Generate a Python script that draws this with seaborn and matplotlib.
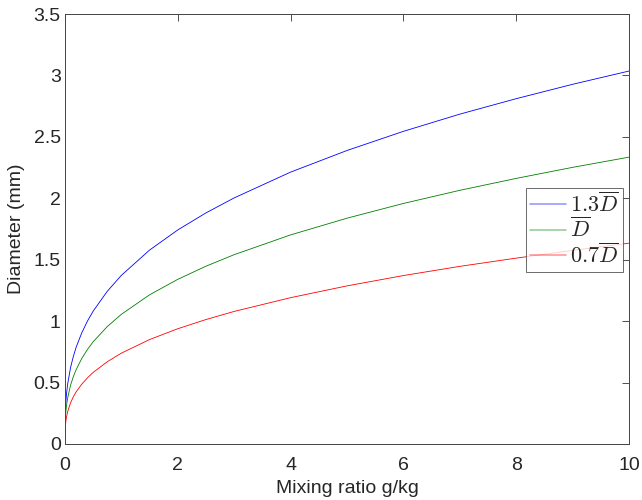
import pandas as pd
import seaborn as sns
import matplotlib.pyplot as plt
from matplotlib.ticker import FormatStrFormatter

# values
mixing_ratio = [0.01, 0.02, 0.03, 0.05, 0.1, 0.15, 0.2, 0.3, 0.4, 0.5, 0.75, 1.0,
                1.5, 2.0, 2.5, 3.0, 4.0, 5.0, 6.0, 7.0, 8.0, 9.0, 10.0]
d_high = [0.281, 0.356, 0.410, 0.488, 0.620, 0.712, 0.787, 0.905, 1.000, 1.080, 1.242, 1.372,
          1.578, 1.742, 1.881, 2.003, 2.213, 2.389, 2.545, 2.685, 2.811, 2.928, 3.036]
d_mean = [0.216, 0.274, 0.315, 0.375, 0.477, 0.548, 0.605, 0.696, 0.769, 0.831, 0.955, 1.055,
          1.214, 1.340, 1.447, 1.541, 1.702, 1.838, 1.958, 2.065, 2.162, 2.252, 2.335]
d_low = [0.151, 0.192, 0.221, 0.263, 0.334, 0.384, 0.424, 0.487, 0.538, 0.582, 0.669, 0.739,
         0.850, 0.938, 1.013, 1.079, 1.191, 1.287, 1.371, 1.446, 1.513, 1.576, 1.635]
series_labels = [r'$1.3\overline{D}$', r'$\overline{D}$', r'$0.7\overline{D}$']
series_colors = ['#0000ff', '#008000', '#ff0000']

df = pd.DataFrame({'Mixing ratio': mixing_ratio, 'high': d_high, 'mean': d_mean, 'low': d_low})

sns.set_style('white')
plt.rcParams['font.family'] = ['Liberation Sans', 'DejaVu Sans']
plt.rcParams['mathtext.fontset'] = 'cm'

fig, ax = plt.subplots(figsize=(6.42, 5.0), dpi=100)
fig.subplots_adjust(left=0.101, right=0.980, bottom=0.112, top=0.972)

for col, lab, c in zip(['high', 'mean', 'low'], series_labels, series_colors):
    sns.lineplot(data=df, x='Mixing ratio', y=col, ax=ax, color=c, lw=0.6, label=lab)

ax.set_xlim(0, 10)
ax.set_ylim(0, 3.5)
ax.set_xticks([0, 2, 4, 6, 8, 10])
ax.set_yticks([0, 0.5, 1, 1.5, 2, 2.5, 3, 3.5])
ax.yaxis.set_major_formatter(FormatStrFormatter('%g'))
ax.tick_params(direction='in', length=5, width=0.6, color='#333333', labelsize=14,
               top=True, right=True)
ax.tick_params(axis='x', pad=9)
ax.tick_params(axis='y', pad=3)
for s in ax.spines.values():
    s.set_visible(True)
    s.set_color('#444444')
    s.set_linewidth(0.7)

ax.set_xlabel('Mixing ratio g/kg', fontsize=14, labelpad=5)
ax.set_ylabel('Diameter (mm)', fontsize=14, labelpad=6)

leg = ax.legend(loc='center right', bbox_to_anchor=(1 - 6 / 564, 0.497), borderaxespad=0,
                fancybox=False, frameon=True, fontsize=16, handlelength=1.6,
                labelspacing=0.05, borderpad=0.2, handletextpad=0.2)
leg.get_frame().set_edgecolor('#444444')
leg.get_frame().set_linewidth(0.7)
for h in leg.get_lines():
    h.set_alpha(0.4)
    h.set_linewidth(1.2)

fig.savefig('out.png', dpi=100)
